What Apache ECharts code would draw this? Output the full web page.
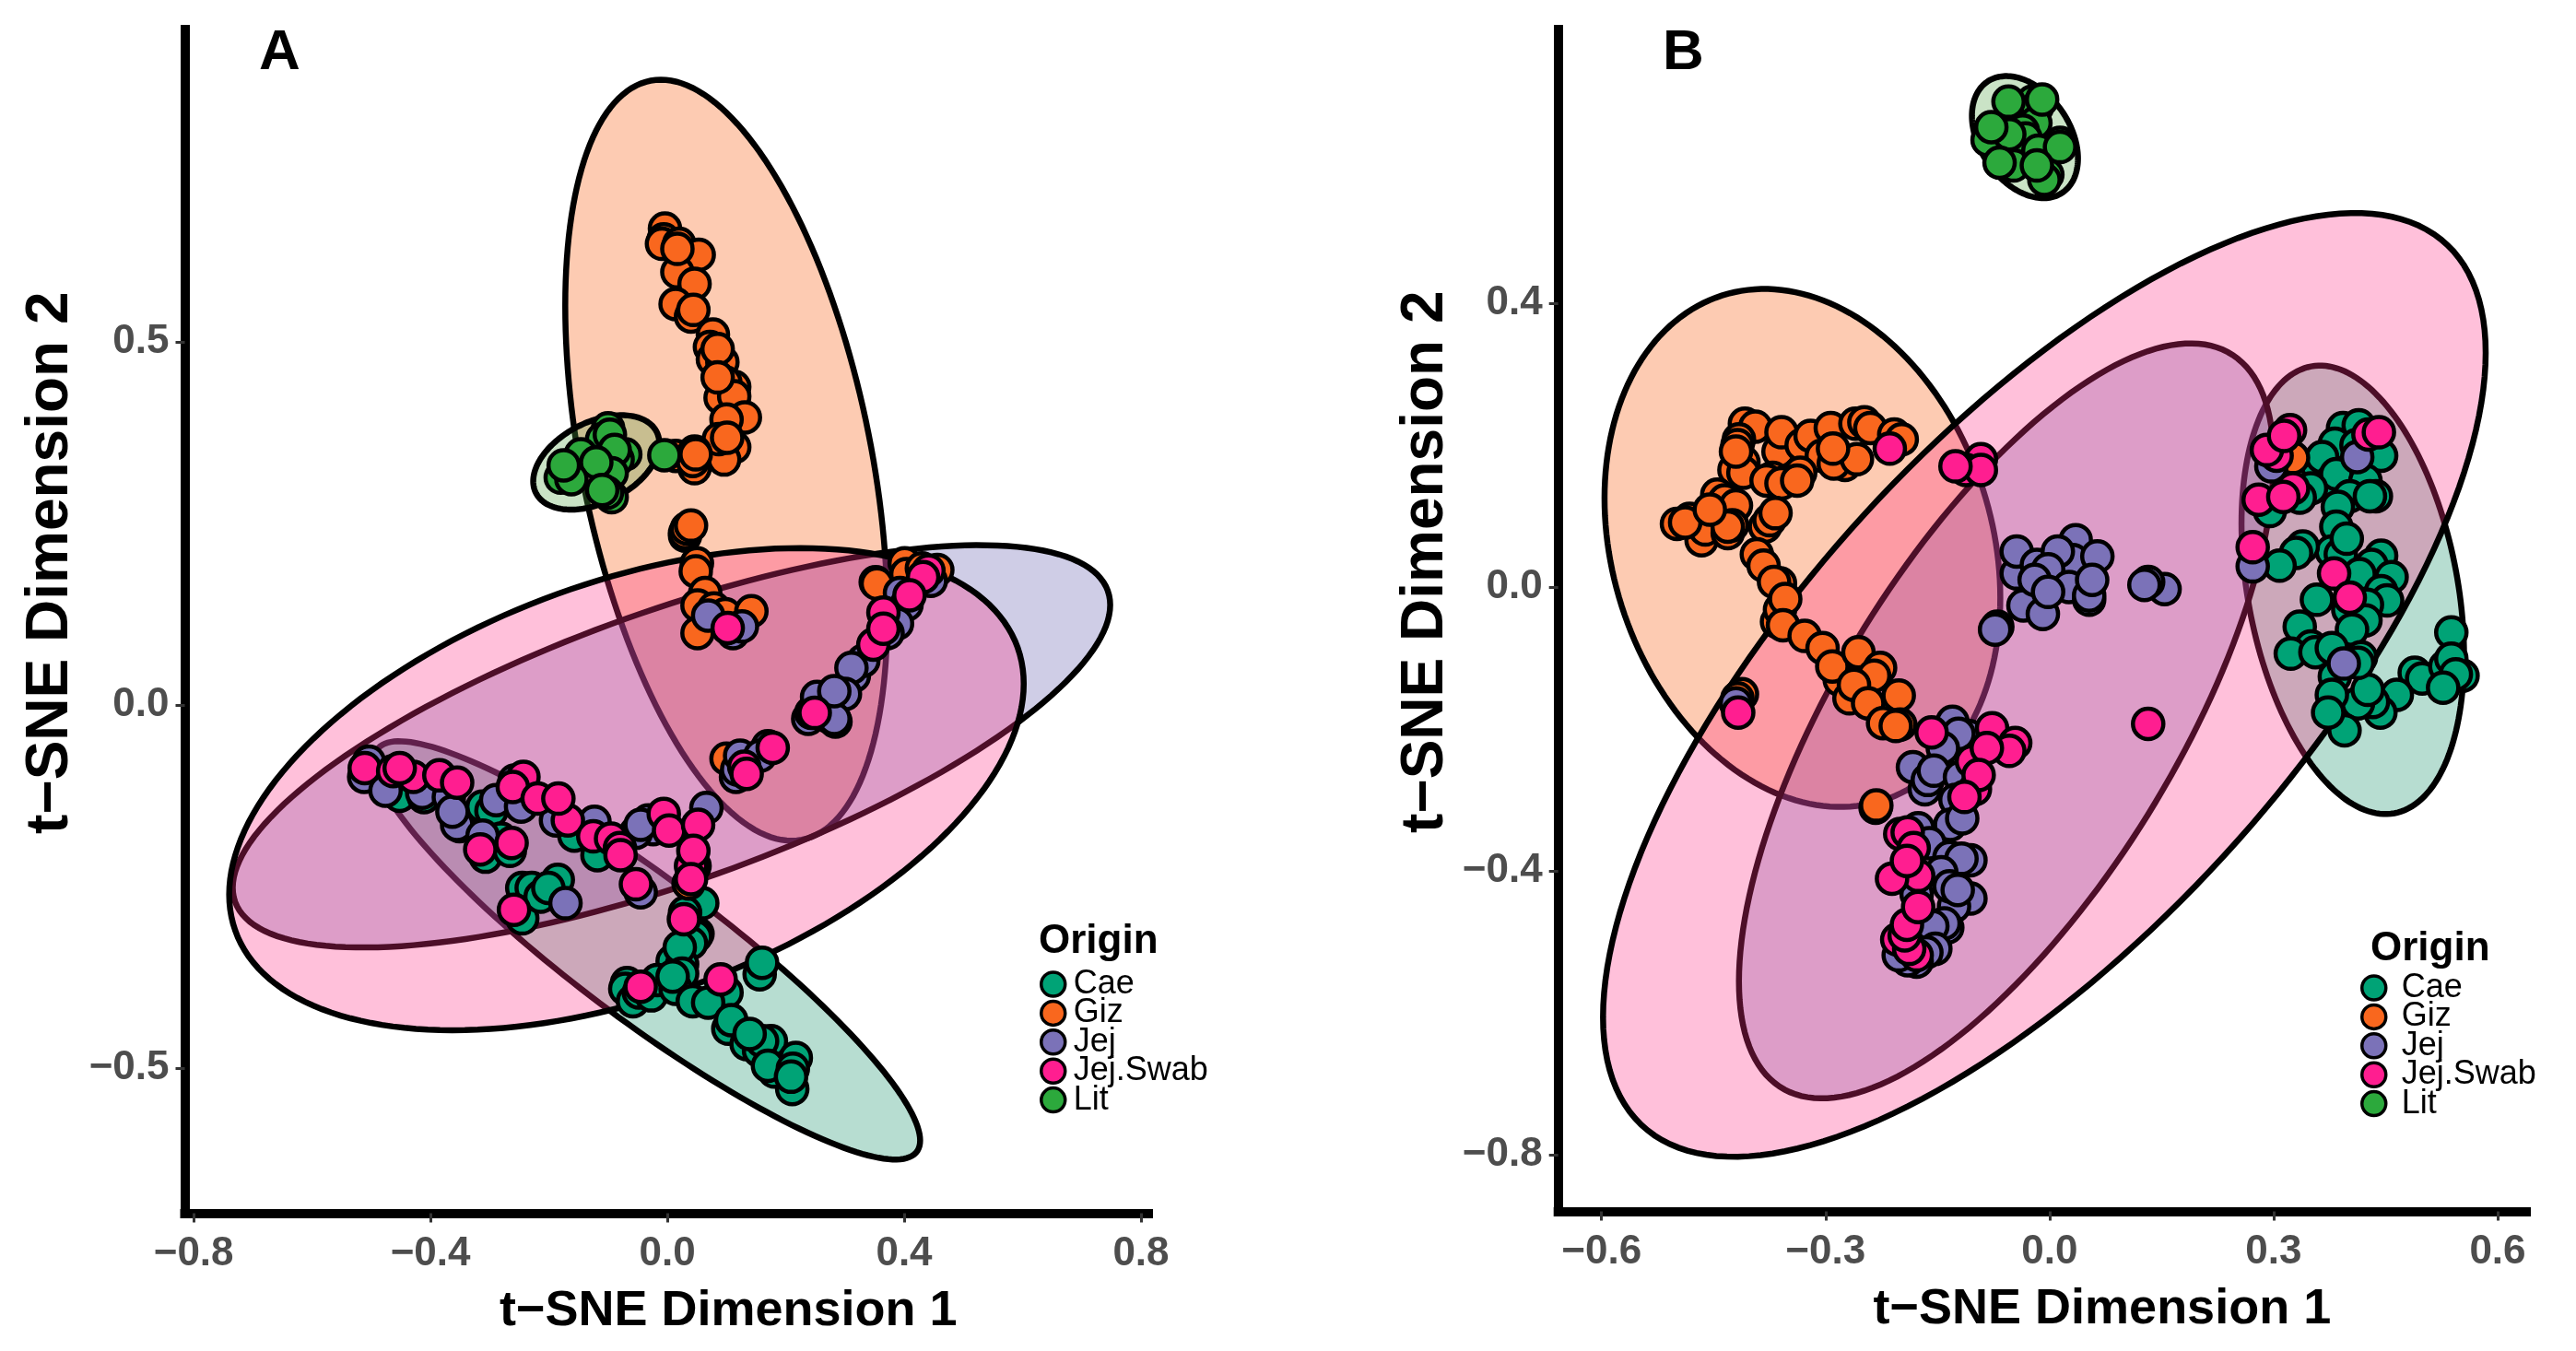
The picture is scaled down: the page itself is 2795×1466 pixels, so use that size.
<!DOCTYPE html>
<html><head><meta charset="utf-8">
<style>html,body{margin:0;padding:0;background:#fff}#c{width:2795px;height:1466px}</style>
<script src="https://cdn.jsdelivr.net/npm/echarts@6/dist/echarts.min.js"></script>
</head><body><div id="c"></div>
<script>
const origins = ['Cae','Giz','Jej','Jej.Swab','Lit'];
const markerColors = ['#00A376','#F9671E','#7B72B8','#FF1E90','#2CA93C'];
const fillColors = ['#0F8F66','#FA5200','#5F58AC','#FF2D84','#4EA241'];
const xTicksA = [-0.8,-0.4,0,0.4,0.8];
const yTicksA = [-0.5,0,0.5];
const xTicksB = [-0.6,-0.3,0,0.3,0.6];
const yTicksB = [-0.8,-0.4,0,0.4];
const xTitle = 't\u2212SNE Dimension 1';
const yTitle = 't\u2212SNE Dimension 2';

// ellipses: centre x, centre y, half width, half height, correlation
const ellipseA = [[-.034,-.338,.461,.288,-.909],[.0996,.337,.272,.524,-.406],[.007,-.057,.741,.277,.703],[-.069,-.116,.671,.332,.437],[-.120,.334,.1065,.065,.4]];
const ellipseB = [[.406,-.004,.149,.316,-.294],[-.331,.055,.265,.365,-.192],[-.058,-.1887,.358,.532,.69],[-.007,-.138,.591,.665,.704],[-.033,.634,.071,.086,-.35]];

const aCae = [[-.452,-.125],[-.411,-.127],[-.351,-.167],[-.312,-.140],[-.297,-.146],[-.281,-.184],[-.307,-.209],[-.266,-.201],[-.245,-.252],[-.229,-.252],[-.245,-.294],[-.214,-.264],[-.185,-.241],[-.201,-.252],[-.157,-.180],[-.118,-.207],[.059,-.273],[.030,-.286],[.051,-.315],[.048,-.319],[.040,-.328],[.009,-.353],[.025,-.357],[.021,-.334],[.025,-.370],[-.068,-.383],[-.071,-.391],[-.058,-.408],[-.048,-.396],[-.027,-.400],[-.017,-.379],[.014,-.391],[.009,-.374],[.156,-.371],[.160,-.355],[.100,-.396],[.043,-.408],[.069,-.410],[.103,-.446],[.108,-.434],[.175,-.463],[.134,-.467],[.155,-.476],[.160,-.463],[.139,-.453],[.217,-.486],[.211,-.529],[.181,-.505],[.170,-.497],[.212,-.501],[.209,-.512]];
const aGiz = [[-.004,.656],[-.006,.641],[-.009,.635],[.020,.635],[.040,.615],[.053,.620],[.017,.596],[.046,.580],[.017,.628],[.014,.552],[.040,.535],[.044,.544],[.077,.510],[.072,.493],[.077,.476],[.093,.472],[.085,.490],[.113,.438],[.098,.444],[.090,.423],[.113,.425],[.085,.451],[.131,.396],[.100,.393],[.113,.355],[.096,.338],[.087,.366],[.101,.368],[.014,.343],[.046,.326],[.043,.336],[.046,.349],[.048,.345],[.030,.233],[.030,.237],[.033,.243],[.040,.247],[.050,.195],[.048,.184],[.064,.154],[.051,.137],[.079,.133],[.098,.125],[.142,.129],[.051,.099],[.401,.195],[.404,.180],[.352,.169],[.354,.167],[.456,.186],[.430,.188],[.284,-.023],[.100,-.074],[.036,-.246]];
const aJej = [[.069,.123],[.111,.099],[.126,.108],[.445,.171],[.393,.154],[.404,.138],[.388,.112],[.372,.099],[.315,.040],[.331,.061],[.311,.051],[.274,-.017],[.300,.015],[.282,-.019],[.238,-.019],[.243,-.011],[.253,.011],[.282,.019],[.170,-.057],[.116,-.099],[.118,-.089],[.123,-.070],[.157,-.070],[-.504,-.078],[-.512,-.099],[-.476,-.118],[-.414,-.121],[-.369,-.127],[-.355,-.165],[-.363,-.147],[-.258,-.104],[-.289,-.131],[-.247,-.140],[-.312,-.180],[-.188,-.159],[-.123,-.171],[-.123,-.161],[.066,-.142],[-.024,-.171],[-.053,-.176],[-.032,-.159],[-.045,-.165],[-.172,-.273],[-.045,-.258],[.046,-.222]];
const aSwab = [[.102,.106],[.441,.185],[.432,.176],[.409,.151],[.365,.127],[.348,.083],[.365,.105],[.249,-.011],[.178,-.059],[.130,-.085],[.134,-.095],[-.243,-.099],[-.511,-.087],[-.463,-.091],[-.429,-.099],[-.452,-.087],[-.385,-.097],[-.355,-.107],[-.261,-.113],[-.219,-.129],[-.168,-.159],[-.184,-.129],[-.125,-.181],[-.095,-.184],[-.080,-.197],[-.079,-.207],[-.006,-.150],[.003,-.173],[.052,-.165],[.040,-.222],[.044,-.201],[.040,-.240],[-.316,-.199],[-.263,-.190],[-.259,-.282],[-.053,-.247],[.028,-.295],[-.045,-.388],[.090,-.378]];
const aLit = [[-.100,.381],[-.110,.366],[-.097,.372],[-.071,.345],[-.084,.338],[-.089,.351],[-.146,.345],[-.094,.319],[-.120,.334],[-.180,.313],[-.162,.311],[-.175,.330],[-.094,.286],[-.102,.292],[-.110,.296],[-.005,.344]];

const bCae = [[.393,.224],[.414,.228],[.382,.202],[.444,.185],[.411,.200],[.359,.169],[.365,.183],[.378,.150],[.384,.159],[.350,.139],[.335,.126],[.295,.107],[.423,.150],[.402,.128],[.437,.128],[.429,.128],[.386,.113],[.384,.085],[.378,.050],[.390,.046],[.398,.068],[.339,.057],[.330,.048],[.308,.030],[.444,.044],[.431,.031],[.458,.014],[.415,.018],[.444,-.006],[.452,-.019],[.358,-.018],[.400,-.032],[.425,-.025],[.423,-.047],[.405,-.060],[.335,-.056],[.350,-.084],[.323,-.094],[.356,-.092],[.378,-.086],[.417,-.099],[.538,-.064],[.553,-.125],[.489,-.121],[.499,-.129],[.530,-.112],[.538,-.101],[.544,-.123],[.527,-.142],[.465,-.152],[.443,-.177],[.433,-.162],[.413,-.164],[.426,-.145],[.413,-.107],[.382,-.126],[.378,-.152],[.395,-.202],[.373,-.177]];
const bGiz = [[-.408,.230],[-.394,.226],[-.416,.208],[-.410,.176],[-.422,.165],[-.410,.161],[-.418,.200],[-.420,.191],[-.363,.191],[-.359,.218],[-.332,.200],[-.320,.213],[-.293,.224],[-.260,.230],[-.248,.232],[-.240,.224],[-.208,.215],[-.198,.208],[-.305,.185],[-.274,.172],[-.289,.174],[-.258,.180],[-.290,.195],[-.371,.154],[-.379,.150],[-.334,.161],[-.359,.146],[-.338,.150],[-.445,.130],[-.435,.122],[-.420,.115],[-.499,.089],[-.482,.096],[-.466,.066],[-.461,.081],[-.431,.076],[-.425,.087],[-.431,.085],[-.488,.091],[-.455,.109],[-.381,.085],[-.375,.094],[-.367,.104],[-.392,.046],[-.383,.030],[-.361,.005],[-.369,.007],[-.365,-.049],[-.361,-.032],[-.354,-.017],[-.357,-.054],[-.328,-.069],[-.304,-.086],[-.281,-.131],[-.291,-.112],[-.256,-.092],[-.227,-.114],[-.235,-.125],[-.268,-.157],[-.262,-.138],[-.243,-.164],[-.202,-.153],[-.223,-.192],[-.200,-.194],[-.206,-.196],[-.412,-.151],[-.418,-.157],[.326,.182],[-.233,-.311],[-.232,-.308]];
const bJej = [[-.420,-.164],[-.130,-.190],[-.108,-.210],[-.122,-.207],[-.143,-.227],[-.183,-.254],[-.167,-.285],[-.163,-.272],[-.155,-.259],[-.120,-.268],[-.126,-.300],[-.133,-.335],[-.117,-.326],[-.176,-.340],[-.161,-.361],[-.134,-.381],[-.106,-.385],[-.118,-.383],[-.145,-.402],[-.106,-.439],[-.128,-.450],[-.134,-.422],[-.123,-.427],[-.178,-.433],[-.137,-.480],[-.141,-.474],[-.157,-.478],[-.153,-.510],[-.165,-.515],[-.178,-.528],[-.190,-.526],[-.202,-.519],[-.070,-.056],[-.073,-.060],[-.044,.019],[.035,.066],[-.044,.050],[-.017,.031],[.031,.038],[.011,.050],[.064,.043],[-.002,.025],[.026,.000],[.053,-.018],[.053,-.012],[.057,.010],[-.035,-.026],[-.009,-.038],[-.020,.010],[-.002,-.007],[.154,-.003],[.132,.007],[.127,.003],[.297,.170],[.412,.183],[.394,-.108],[.272,.029]];
const bSwab = [[-.214,.195],[-.092,.180],[-.112,.165],[-.092,.165],[-.126,.170],[-.417,-.177],[-.158,-.205],[-.077,-.199],[-.046,-.220],[-.054,-.231],[-.104,-.246],[-.084,-.227],[-.100,-.285],[-.095,-.265],[-.114,-.296],[-.200,-.348],[-.190,-.346],[-.182,-.368],[-.176,-.407],[-.211,-.411],[-.191,-.386],[-.204,-.497],[-.178,-.519],[-.188,-.510],[-.194,-.491],[-.191,-.476],[-.176,-.451],[.132,-.193],[.322,.221],[.304,.185],[.291,.193],[.314,.213],[.427,.215],[.441,.218],[.326,.139],[.280,.123],[.313,.127],[.272,.056],[.381,.019],[.402,-.015]];
const bLit = [[-.023,.684],[-.017,.676],[-.019,.654],[-.036,.643],[-.032,.632],[-.083,.630],[.014,.626],[-.048,.594],[-.015,.615],[-.003,.581],[-.007,.574],[-.055,.684],[-.010,.687],[-.054,.638],[-.078,.648],[.014,.620],[-.067,.598],[-.017,.594]];

const valuesA = [aCae,aGiz,aJej,aSwab,aLit];
const valuesB = [bCae,bGiz,bJej,bSwab,bLit];

const FONT = '"Liberation Sans", Arial, sans-serif';

function ellipseSeries(rows, axisIndex){
  return {
    type:'custom', name:'ellipses'+axisIndex, coordinateSystem:'cartesian2d',
    xAxisIndex:axisIndex, yAxisIndex:axisIndex, data:rows, z:1, silent:true,
    encode:{x:0,y:1}, clip:false,
    renderItem(params, api){
      const cx=api.value(0), cy=api.value(1), rx=api.value(2), ry=api.value(3), rho=api.value(4);
      const s=Math.sqrt(1-rho*rho), pts=[];
      for(let k=0;k<180;k++){
        const t=k/180*2*Math.PI;
        pts.push(api.coord([cx+rx*Math.cos(t), cy+ry*(rho*Math.cos(t)+s*Math.sin(t))]));
      }
      return {type:'polygon', shape:{points:pts}, style:{fill:fillColors[params.dataIndex], opacity:1, fillOpacity:.3, stroke:'#000', lineWidth:6.5, strokeOpacity:1}};
    }
  };
}
function pointSeries(values, axisIndex){
  return values.map((vals,i)=>({
    type:'scatter', name:origins[i], xAxisIndex:axisIndex, yAxisIndex:axisIndex, data:vals,
    symbol:'circle', symbolSize:33, z:2+i, clip:false, silent:true,
    itemStyle:{color:markerColors[i], borderColor:'#000', borderWidth:4.5, opacity:1}
  }));
}
const fmt = v => (v<0?'\u2212':'')+Math.abs(v).toFixed(1);
function xAxis(gridIndex,min,max,ticks,pad,gap){
  return {type:'value', gridIndex, min, max, splitLine:{show:false},
    name:xTitle, nameLocation:'middle', nameGap:gap,
    nameTextStyle:{fontFamily:FONT,fontWeight:'bold',fontSize:54,color:'#000',padding:[0,0,0,pad]},
    axisLine:{show:true,onZero:false,lineStyle:{color:'#000',width:10,cap:'square'}},
    axisTick:{show:true,length:10,customValues:ticks,lineStyle:{color:'#333',width:3}},
    axisLabel:{show:true,customValues:ticks,formatter:fmt,margin:22,fontFamily:FONT,fontWeight:'bold',fontSize:44,color:'#4D4D4D',showMinLabel:true,showMaxLabel:true}};
}
function yAxis(gridIndex,min,max,ticks,pad,gap){
  return {type:'value', gridIndex, min, max, splitLine:{show:false},
    name:yTitle, nameLocation:'middle', nameGap:gap,
    nameTextStyle:{fontFamily:FONT,fontWeight:'bold',fontSize:64,color:'#000',padding:[0,0,0,pad]},
    axisLine:{show:true,onZero:false,lineStyle:{color:'#000',width:10,cap:'square'}},
    axisTick:{show:true,length:10,customValues:ticks,lineStyle:{color:'#333',width:3}},
    axisLabel:{show:true,customValues:ticks,formatter:fmt,margin:17,fontFamily:FONT,fontWeight:'bold',fontSize:44,color:'#4D4D4D'}};
}
function legend(left,top,itemWidth){
  return {show:true, orient:'vertical', left, top, padding:0, data:origins, selectedMode:false, icon:'circle',
    itemWidth, itemHeight:26, itemGap:-4.6, inactiveColor:'#ccc',
    itemStyle:{borderColor:'#000',borderWidth:3.5},
    textStyle:{fontFamily:FONT,fontSize:36,color:'#000',lineHeight:24,padding:0}};
}
function heading(text,left,top,size){
  return {text,left,top,padding:0,textStyle:{fontFamily:FONT,fontWeight:'bold',fontSize:size,color:'#000'}};
}
const chart = echarts.init(document.getElementById('c'),null,{renderer:'canvas',width:2795,height:1466});
chart.setOption({
  animation:false, backgroundColor:'#fff',
  title:[heading('A',281,27,62),heading('B',1804,27,62),heading('Origin',1127,1000,44),heading('Origin',2572,1008,44)],
  legend:[legend(1128,1050,34),legend(2561,1054,50)],
  grid:[
    {left:200.5,top:32,width:1045.5,height:1284.5,containLabel:false},
    {left:1690.7,top:32,width:1050.3,height:1282.5,containLabel:false}
  ],
  xAxis:[xAxis(0,-.815,.8125,xTicksA,134,80),xAxis(1,-.658,.6383,xTicksB,130,80)],
  yAxis:[yAxis(0,-.70,.9302,yTicksA,127,113),yAxis(1,-.88,.7857,yTicksB,127,111)],
  series:[ellipseSeries(ellipseA,0),ellipseSeries(ellipseB,1),...pointSeries(valuesA,0),...pointSeries(valuesB,1)]
});
</script></body></html>
